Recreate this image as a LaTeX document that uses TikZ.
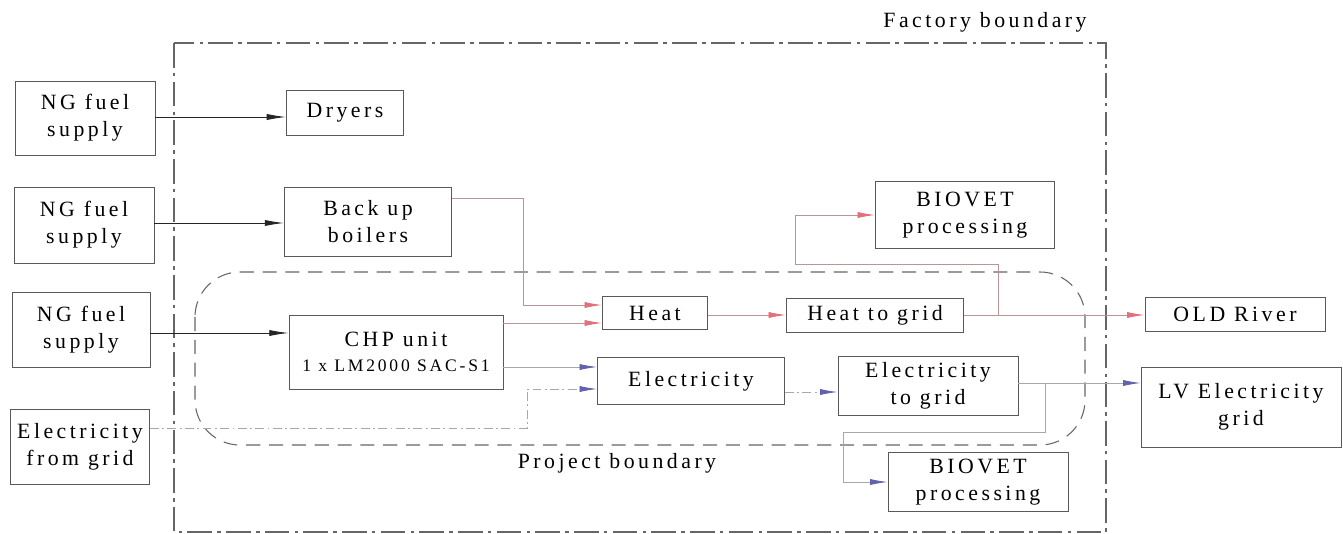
\documentclass[tikz,border=0pt]{standalone}
\usepackage{fontspec}
\setmainfont{Liberation Serif}[LetterSpace=16]
\usepackage{xcolor}
\usepackage{tikz}
\usetikzlibrary{arrows.meta}
\usetikzlibrary{positioning}
\definecolor{heatred}{RGB}{226,112,122}
\definecolor{elecblue}{RGB}{98,98,172}
\definecolor{flowgray}{RGB}{168,168,168}

\begin{document}
\begin{tikzpicture}[
	x=0.02cm, y=-0.02cm,
	font=\fontsize{12.4}{15.4}\selectfont
]
\tikzset{
    unitbox/.style = {rectangle, draw=black!65, line width=0.5pt, align=center, inner sep=1pt},
    feedline/.style = {draw=black!85, line width=0.5pt, -{Latex[length=11pt,width=3.5pt]}},
    heatline/.style = {draw=heatred!35!flowgray, line width=0.5pt, -{Latex[length=10pt,width=3.5pt,color=heatred]}},
    elecline/.style = {draw=flowgray, line width=0.5pt, -{Latex[length=10pt,width=3.5pt,color=elecblue]}},
    gridline/.style = {elecline, dash pattern=on 5pt off 2pt on 1pt off 2pt},
    boundary/.style = {draw=black!60, line width=0.6pt}
}
\useasboundingbox (0,0) rectangle (1343,534);
% boundaries
\draw[boundary, dash pattern=on 14pt off 3pt on 2pt off 3pt] (174,43) rectangle (1106,532);
\draw[boundary, dash pattern=on 8pt off 5pt, rounded corners=0.9cm] (195,272) rectangle (1085,445);
\node (factorylbl) at (985,22) {Factory boundary};
\node (projectlbl) at (617,463) {Project boundary};
% inputs
\node[unitbox,minimum width=2.8cm,minimum height=1.48cm] (ng1) at (85,118) {NG fuel\\supply};
\node[unitbox,minimum width=2.8cm,minimum height=1.52cm] (ng2) at (84,225) {NG fuel\\supply};
\node[unitbox,minimum width=2.76cm,minimum height=1.5cm] (ng3) at (81,330) {NG fuel\\supply};
\node[unitbox,minimum width=2.78cm,minimum height=1.5cm] (egrid) at (80,447) {Electricity\\from grid};
% units
\node[unitbox,minimum width=2.34cm,minimum height=0.9cm] (dryers) at (345,113) {Dryers};
\node[unitbox,minimum width=3.34cm,minimum height=1.38cm] (boilers) at (368,222) {Back up\\boilers};
\node[unitbox,minimum width=4.28cm,minimum height=1.48cm] (chp) at (396,352) {CHP unit\\[-1pt]{\fontsize{10}{12}\selectfont 1 x LM2000 SAC-S1}};
\node[unitbox,minimum width=2.1cm,minimum height=0.66cm] (heat) at (655,313) {Heat};
\node[unitbox,minimum width=3.54cm,minimum height=0.68cm] (htg) at (875,315) {Heat to grid};
\node[unitbox,minimum width=3.58cm,minimum height=1.34cm] (bio1) at (965,215) {BIOVET\\processing};
\node[unitbox,minimum width=3.74cm,minimum height=0.94cm] (elec) at (691,381) {Electricity};
\node[unitbox,minimum width=3.6cm,minimum height=1.18cm] (etg) at (928,386) {Electricity\\to grid};
\node[unitbox,minimum width=3.6cm,minimum height=1.18cm] (bio2) at (978,482) {BIOVET\\processing};
% outputs
\node[unitbox,minimum width=3.6cm,minimum height=0.68cm] (river) at (1235,314) {OLD River};
\node[unitbox,minimum width=4.0cm,minimum height=1.6cm] (lv) at (1241,407) {LV Electricity\\grid};
% fuel feeds
\draw[feedline] (ng1.east |- 0,117) -- (dryers.west |- 0,117);
\draw[feedline] (ng2.east |- 0,223) -- (boilers.west |- 0,223);
\draw[feedline] (ng3.east |- 0,333) -- (chp.west |- 0,333);
% heat
\draw[heatline] (boilers.east |- 0,198) -| (523,305) -- (heat.west |- 0,305);
\draw[heatline] (chp.east |- 0,323) -- (heat.west |- 0,323);
\draw[heatline] (heat.east |- 0,315) -- (htg.west |- 0,315);
\draw[heatline] (htg.east |- 0,315) -- (river.west |- 0,315);
\coordinate (hsplit) at (998,315);
\draw[heatline] (hsplit) |- (795,264) |- (bio1.west);
% electricity
\draw[elecline] (chp.east |- 0,367) -- (elec.west |- 0,367);
\draw[gridline] (egrid.east |- 0,428) -| (527,389) -- (elec.west |- 0,389);
\draw[gridline] (elec.east |- 0,392) -- (etg.west |- 0,392);
\draw[elecline] (etg.east |- 0,383) -- (lv.west |- 0,383);
\coordinate (esplit) at (1045,383);
\draw[elecline] (esplit) |- (843,432) |- (bio2.west);
\end{tikzpicture}
\end{document}
